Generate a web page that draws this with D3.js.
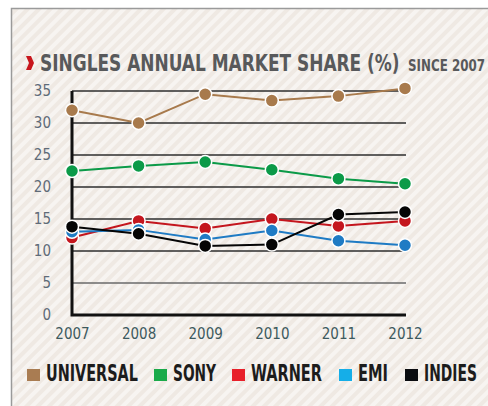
<!DOCTYPE html>
<html>
<head>
<meta charset="utf-8">
<script src="https://cdn.jsdelivr.net/npm/d3@7"></script>
<style>
  html, body { margin: 0; padding: 0; background: #fff; }
  svg { display: block; }
</style>
</head>
<body>
<svg id="chart" width="488" height="406"></svg>
<script>
// data
var years = [2007, 2008, 2009, 2010, 2011, 2012];
var universal = [32.0, 30.0, 34.5, 33.5, 34.2, 35.4];
var sony      = [22.5, 23.3, 23.9, 22.7, 21.3, 20.5];
var warner    = [12.1, 14.7, 13.5, 15.0, 13.9, 14.7];
var emi       = [13.0, 13.3, 11.8, 13.2, 11.6, 10.9];
var indies    = [13.8, 12.7, 10.8, 11.0, 15.7, 16.1];
var yTicks = [0, 5, 10, 15, 20, 25, 30, 35];

var seriesNames = ["UNIVERSAL", "SONY", "WARNER", "EMI", "INDIES"];
var seriesValues = [universal, sony, warner, emi, indies];
var lineColors = ["#a87a4c", "#0b9a48", "#c4161e", "#1f7bc4", "#050505"];
var legendColors = ["#a97c52", "#1aaa4a", "#e8202a", "#15aee8", "#0a0c10"];
var legendWidths = [92, 43, 71, 30, 53];
var legendX = [27, 154, 232, 339, 405];

var condensed = "'Liberation Sans Narrow', 'DejaVu Sans Condensed', 'Roboto Condensed', sans-serif";

var svg = d3.select("#chart");

// squeeze a text horizontally so it spans the given width (keeps the bbox honest)
function squeeze(sel, x0, y0, w) {
    var natural = sel.node().getComputedTextLength();
    var sx = Math.min(1, w / natural);
    sel.attr("x", 0).attr("y", 0)
        .attr("transform", "translate(" + x0 + "," + y0 + ") scale(" + sx + ",1)");
}

// striped background panel
var defs = svg.append("defs");
var pat = defs.append("pattern")
    .attr("id", "stripes")
    .attr("patternUnits", "userSpaceOnUse")
    .attr("width", 8)
    .attr("height", 8)
    .attr("patternTransform", "rotate(45)");
pat.append("rect").attr("width", 8).attr("height", 8).attr("fill", "#f7f4f1");
pat.append("rect").attr("width", 4).attr("height", 8).attr("fill", "#efe9e3");

svg.append("rect")
    .attr("x", 11).attr("y", 8)
    .attr("width", 477).attr("height", 398)
    .attr("fill", "url(#stripes)");

svg.append("path")
    .attr("d", "M11.5,406 V8.5 H488")
    .attr("fill", "none")
    .attr("stroke", "#9a9a9a")
    .attr("stroke-width", 1.5);

// title
svg.append("path")
    .attr("d", "M26,56 L31,56 L34,63 L31,70 L26,70 L29,63 Z")
    .attr("fill", "#c8161d");

var title = svg.append("text")
    .attr("font-family", condensed)
    .attr("font-weight", "bold")
    .attr("font-size", 23)
    .attr("fill", "#58595b")
    .text("SINGLES ANNUAL MARKET SHARE (%)");
squeeze(title, 40, 71, 360);

var since = svg.append("text")
    .attr("font-family", condensed)
    .attr("font-weight", "bold")
    .attr("font-size", 15)
    .attr("fill", "#58595b")
    .text("SINCE 2007");
squeeze(since, 408, 71, 77);

// scales
var x = d3.scalePoint().domain(years).range([72, 405]);
var y = d3.scaleLinear().domain([0, 35]).range([315, 91]);

// gridlines
svg.append("g")
    .selectAll("line")
    .data(yTicks.filter(function(d) { return d > 0; }))
    .join("line")
    .attr("x1", 72).attr("x2", 406)
    .attr("y1", function(d) { return y(d); })
    .attr("y2", function(d) { return y(d); })
    .attr("stroke", function(d) { return d == 5 ? "#6a6a6a" : "#2e2e2e"; })
    .attr("stroke-width", 1.3);

// y axis labels
var yAxis = svg.append("g")
    .attr("transform", "translate(72,0)")
    .call(d3.axisLeft(y).tickValues(yTicks).tickSize(0).tickPadding(21));
yAxis.select(".domain").remove();
yAxis.selectAll("text")
    .attr("font-family", condensed)
    .attr("font-size", 15)
    .attr("fill", "#5f6b78");

// x axis labels
var xAxis = svg.append("g")
    .attr("transform", "translate(0,315)")
    .call(d3.axisBottom(x).tickSize(0).tickPadding(13).tickFormat(d3.format("d")));
xAxis.select(".domain").remove();
xAxis.selectAll("text")
    .attr("font-family", condensed)
    .attr("font-size", 15)
    .attr("fill", "#3d5a5e");

// thick axis lines
svg.append("path")
    .attr("d", "M72," + y(35) + " V" + y(0) + " H406")
    .attr("fill", "none")
    .attr("stroke", "#111")
    .attr("stroke-width", 3);

// lines
var line = d3.line()
    .x(function(d, i) { return x(years[i]); })
    .y(function(d) { return y(d); });

svg.append("g")
    .selectAll("path")
    .data(seriesValues)
    .join("path")
    .attr("d", line)
    .attr("fill", "none")
    .attr("stroke", function(d, i) { return lineColors[i]; })
    .attr("stroke-width", 2);

// markers
seriesValues.forEach(function(vals, s) {
    svg.append("g")
        .selectAll("circle")
        .data(vals)
        .join("circle")
        .attr("cx", function(d, i) { return x(years[i]); })
        .attr("cy", function(d) { return y(d); })
        .attr("r", 6.5)
        .attr("fill", lineColors[s])
        .attr("stroke", "#fff")
        .attr("stroke-width", 1.5);
});

// legend
var legend = svg.append("g");
seriesNames.forEach(function(name, i) {
    legend.append("rect")
        .attr("x", legendX[i]).attr("y", 369)
        .attr("width", 13).attr("height", 12)
        .attr("fill", legendColors[i]);
    var t = legend.append("text")
        .attr("font-family", condensed)
        .attr("font-weight", "bold")
        .attr("font-size", 23)
        .attr("fill", "#1c1c1c")
        .text(name);
    squeeze(t, legendX[i] + 19, 381, legendWidths[i]);
});
</script>
</body>
</html>
